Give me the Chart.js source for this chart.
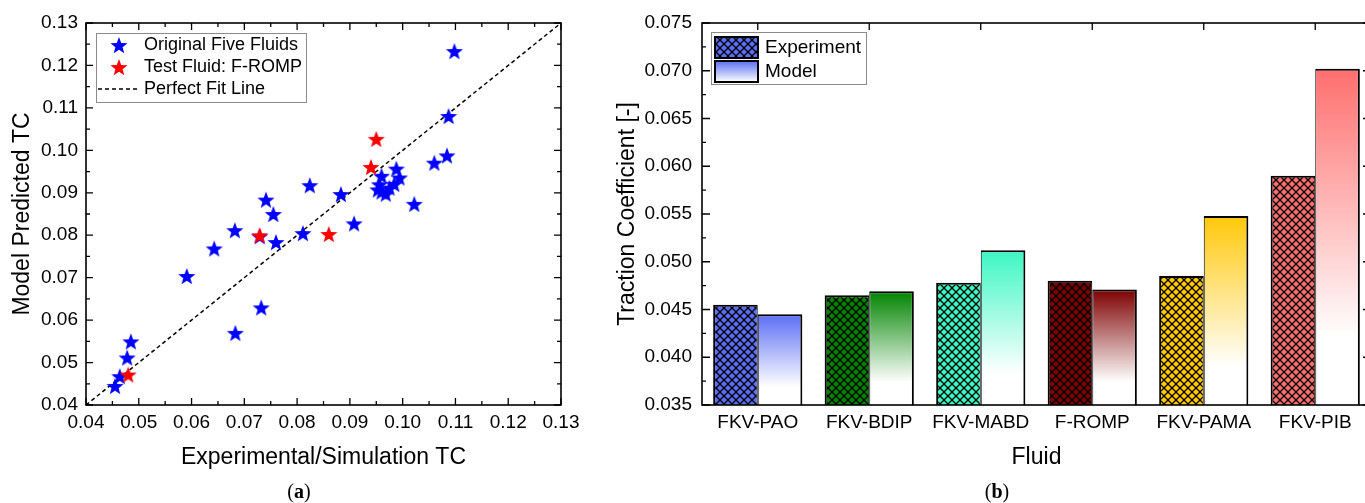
<!DOCTYPE html>
<html>
<head>
<meta charset="utf-8">
<script src="https://cdn.jsdelivr.net/npm/chart.js@4.4.1/dist/chart.umd.min.js"></script>
<style>
  html, body { margin: 0; padding: 0; background: #fff; }
  body { width: 1365px; height: 503px; overflow: hidden; position: relative; }
  .panel { position: absolute; top: 0; height: 503px; }
  .tag { position: absolute; top: 491px; transform: translate(-50%, -50%);
         font: 20px "Liberation Serif", "Times New Roman", serif; color: #000; }
</style>
</head>
<body>
<div class="panel" style="left:0;width:600px"><canvas id="scatter"></canvas></div>
<div class="panel" style="left:600px;width:780px"><canvas id="bars"></canvas></div>
<div class="tag" style="left:299px">(<b>a</b>)</div>
<div class="tag" style="left:997px">(<b>b</b>)</div>
<script>
Chart.defaults.font.family = '"Liberation Sans", Arial, sans-serif';
Chart.defaults.color = '#000';
Chart.defaults.animation = false;

// ── Data: (a) parity plot ──────────────────────────────────────────────────────
const tcTicks = [0.04, 0.05, 0.06, 0.07, 0.08, 0.09, 0.10, 0.11, 0.12, 0.13];

const origExp   = [0.1098, 0.1087, 0.1084, 0.1060, 0.1022, 0.0988, 0.0994, 0.0960, 0.0956, 0.0960,
                   0.0968, 0.0975, 0.0984, 0.0953, 0.0883, 0.0824, 0.0908, 0.0811, 0.0741, 0.0755,
                   0.0760, 0.0729, 0.0682, 0.0643, 0.0591, 0.0732, 0.0683, 0.0485, 0.0478, 0.0464, 0.0455];
const origModel = [0.1234, 0.1081, 0.0988, 0.0971, 0.0874, 0.0957, 0.0936, 0.0940, 0.0920, 0.0903,
                   0.0898, 0.0912, 0.0921, 0.0908, 0.0897, 0.0918, 0.0828, 0.0805, 0.0884, 0.0850,
                   0.0784, 0.0798, 0.0812, 0.0769, 0.0704, 0.0630, 0.0570, 0.0550, 0.0512, 0.0468, 0.0445];
const testExp   = [0.0950, 0.0940, 0.0860, 0.0729, 0.0480];
const testModel = [0.1027, 0.0961, 0.0803, 0.0800, 0.0472];
const fitLine   = [0.04, 0.13];

// ── Data: (b) traction coefficient per fluid ───────────────────────────────────
const fluids        = ['FKV-PAO', 'FKV-BDIP', 'FKV-MABD', 'F-ROMP', 'FKV-PAMA', 'FKV-PIB'];
const tcExperiment  = [0.0455, 0.0465, 0.0478, 0.0480, 0.0485, 0.0590];
const tcModel       = [0.0445, 0.0469, 0.0512, 0.0471, 0.0548, 0.0702];
const fluidColors   = ['#5a6ef4', '#008400', '#3cf7c3', '#7d0000', '#ffc809', '#ff6e6e'];
const tractionTicks = [0.035, 0.040, 0.045, 0.050, 0.055, 0.060, 0.065, 0.070, 0.075];

// ── Helpers ────────────────────────────────────────────────────────────────────
function starImage(color) {
  const r = 9, c = document.createElement('canvas');
  c.width = c.height = 2 * r + 2;
  const g = c.getContext('2d');
  g.fillStyle = color;
  g.beginPath();
  for (let i = 0; i < 10; i++) {
    const ang = -Math.PI / 2 + i * Math.PI / 5;
    const rr = i % 2 ? r * 0.42 : r;
    g.lineTo(c.width / 2 + rr * Math.cos(ang), c.height / 2 + 1 + rr * Math.sin(ang));
  }
  g.closePath();
  g.fill();
  return c;
}
const blueStar = starImage('#0000ff');
const redStar  = starImage('#ff0000');

function hatch(ctx, color) {
  const c = document.createElement('canvas');
  c.width = c.height = 8;
  const g = c.getContext('2d');
  g.fillStyle = color;
  g.fillRect(0, 0, 8, 8);
  g.strokeStyle = '#000';
  g.lineWidth = 1.3;
  g.beginPath();
  g.moveTo(-1, -1); g.lineTo(9, 9);
  g.moveTo(9, -1);  g.lineTo(-1, 9);
  g.stroke();
  return ctx.createPattern(c, 'repeat');
}

function midpoints(v) { return v.slice(1).map((t, i) => (t + v[i]) / 2); }

function tickMarks(ctx, a, side, pixels, len) {
  pixels.forEach(p => {
    if (side === 'bottom') { ctx.moveTo(p, a.bottom); ctx.lineTo(p, a.bottom - len); }
    if (side === 'top')    { ctx.moveTo(p, a.top);    ctx.lineTo(p, a.top + len); }
    if (side === 'left')   { ctx.moveTo(a.left, p);   ctx.lineTo(a.left + len, p); }
    if (side === 'right')  { ctx.moveTo(a.right, p);  ctx.lineTo(a.right - len, p); }
  });
}

function fixedTicks(values) {
  return scale => { scale.ticks = values.map(v => ({ value: v })); };
}

const tickFont  = { size: 19 };
const titleFont = { size: 23 };

// ── (a) scatter ────────────────────────────────────────────────────────────────
const scatterFrame = {
  id: 'scatterFrame',
  afterDatasetsDraw(chart) {
    const { ctx, chartArea: a, scales: { x, y } } = chart;
    const xMaj = tcTicks.map(v => x.getPixelForValue(v));
    const xMin = midpoints(tcTicks).map(v => x.getPixelForValue(v));
    const yMaj = tcTicks.map(v => y.getPixelForValue(v));
    const yMin = midpoints(tcTicks).map(v => y.getPixelForValue(v));
    ctx.save();
    ctx.strokeStyle = '#000';
    ctx.lineWidth = 1.3;
    ctx.beginPath();
    ['top', 'bottom'].forEach(s => { tickMarks(ctx, a, s, xMaj, 7); tickMarks(ctx, a, s, xMin, 4); });
    ['left', 'right'].forEach(s => { tickMarks(ctx, a, s, yMaj, 7); tickMarks(ctx, a, s, yMin, 4); });
    ctx.stroke();
    ctx.lineWidth = 1.6;
    ctx.strokeRect(a.left, a.top, a.right - a.left, a.bottom - a.top);
    ctx.restore();
  },
  afterDraw(chart) {
    const ctx = chart.ctx;
    ctx.save();
    ctx.fillStyle = '#fff';
    ctx.fillRect(96.5, 33.5, 210, 69);
    ctx.strokeStyle = '#8a8a8a';
    ctx.lineWidth = 1;
    ctx.strokeRect(96.5, 33.5, 210, 69);
    ctx.drawImage(blueStar, 119 - blueStar.width / 2, 45 - blueStar.height / 2);
    ctx.drawImage(redStar, 119 - redStar.width / 2, 67 - redStar.height / 2);
    ctx.strokeStyle = '#000';
    ctx.lineWidth = 1.5;
    ctx.setLineDash([4, 3]);
    ctx.beginPath();
    ctx.moveTo(98, 89); ctx.lineTo(138, 89);
    ctx.stroke();
    ctx.fillStyle = '#000';
    ctx.font = '18px "Liberation Sans", Arial, sans-serif';
    ctx.textBaseline = 'middle';
    ctx.fillText('Original Five Fluids', 144, 45);
    ctx.fillText('Test Fluid: F-ROMP', 144, 67);
    ctx.fillText('Perfect Fit Line', 144, 89);
    ctx.restore();
  }
};

new Chart(document.getElementById('scatter'), {
  type: 'scatter',
  data: {
    datasets: [
      { label: 'Original Five Fluids', order: 1,
        data: origExp.map((v, i) => ({ x: v, y: origModel[i] })),
        pointStyle: blueStar, pointRadius: 9 },
      { label: 'Test Fluid: F-ROMP', order: 0,
        data: testExp.map((v, i) => ({ x: v, y: testModel[i] })),
        pointStyle: redStar, pointRadius: 9 },
      { label: 'Perfect Fit Line', type: 'line', order: 2,
        data: fitLine.map(v => ({ x: v, y: v })),
        borderColor: '#000', borderWidth: 1.5, borderDash: [4, 3], pointRadius: 0, fill: false }
    ]
  },
  options: {
    responsive: true, maintainAspectRatio: false,
    layout: { padding: { top: 23, right: 39, left: 0, bottom: 0 } },
    plugins: { legend: { display: false }, tooltip: { enabled: false } },
    scales: {
      x: {
        type: 'linear', min: 0.04, max: 0.13,
        afterBuildTicks: fixedTicks(tcTicks),
        afterFit: s => { s.height = 98; },
        grid: { display: false, drawTicks: false }, border: { display: false },
        ticks: { font: tickFont, padding: 6, maxRotation: 0, callback: v => v.toFixed(2) },
        title: { display: true, text: 'Experimental/Simulation TC', font: titleFont, padding: { top: 0, bottom: 32 } }
      },
      y: {
        type: 'linear', min: 0.04, max: 0.13,
        afterBuildTicks: fixedTicks(tcTicks),
        afterFit: s => { s.width = 86; },
        grid: { display: false, drawTicks: false }, border: { display: false },
        ticks: { font: tickFont, padding: 8, callback: v => v.toFixed(2) },
        title: { display: true, text: 'Model Predicted TC', font: titleFont, padding: { top: 9, bottom: 0 } }
      }
    }
  },
  plugins: [scatterFrame]
});

// ── (b) bars ───────────────────────────────────────────────────────────────────
const barCanvas = document.getElementById('bars');
const barCtx = barCanvas.getContext('2d');
const hatches = fluidColors.map(c => hatch(barCtx, c));

function modelFill(context) {
  const chart = context.chart, area = chart.chartArea;
  const color = fluidColors[context.dataIndex];
  if (!area || !chart.scales.y) return color;
  const top = chart.scales.y.getPixelForValue(tcModel[context.dataIndex]);
  const g = chart.ctx.createLinearGradient(0, top, 0, area.bottom);
  g.addColorStop(0, color);
  g.addColorStop(0.8, '#ffffff');
  g.addColorStop(1, '#ffffff');
  return g;
}

const barFrame = {
  id: 'barFrame',
  afterDatasetsDraw(chart) {
    const { ctx, chartArea: a, scales: { x, y } } = chart;
    const yMaj = tractionTicks.map(v => y.getPixelForValue(v));
    const yMin = midpoints(tractionTicks).map(v => y.getPixelForValue(v));
    const xMaj = fluids.map((f, i) => x.getPixelForValue(i));
    ctx.save();
    ctx.strokeStyle = '#000';
    ctx.lineWidth = 1.3;
    ctx.beginPath();
    ['left', 'right'].forEach(s => { tickMarks(ctx, a, s, yMaj, 8); tickMarks(ctx, a, s, yMin, 4); });
    tickMarks(ctx, a, 'top', xMaj, 7);
    ctx.stroke();
    ctx.lineWidth = 1.6;
    ctx.strokeRect(a.left, a.top, a.right - a.left, a.bottom - a.top);
    ctx.restore();
  },
  afterDraw(chart) {
    const ctx = chart.ctx;
    ctx.save();
    ctx.fillStyle = '#fff';
    ctx.fillRect(111.5, 32.5, 155, 52);
    ctx.strokeStyle = '#8a8a8a';
    ctx.lineWidth = 1;
    ctx.strokeRect(111.5, 32.5, 155, 52);
    ctx.fillStyle = hatches[0];
    ctx.fillRect(115, 37, 43, 21);
    const g = ctx.createLinearGradient(0, 61, 0, 82);
    g.addColorStop(0, fluidColors[0]);
    g.addColorStop(1, '#ffffff');
    ctx.fillStyle = g;
    ctx.fillRect(115, 61, 43, 21);
    ctx.strokeStyle = '#000';
    ctx.lineWidth = 2;
    ctx.strokeRect(115, 37, 43, 21);
    ctx.strokeRect(115, 61, 43, 21);
    ctx.fillStyle = '#000';
    ctx.font = '19px "Liberation Sans", Arial, sans-serif';
    ctx.textBaseline = 'middle';
    ctx.fillText('Experiment', 165, 48);
    ctx.fillText('Model', 165, 72);
    ctx.restore();
  }
};

new Chart(barCanvas, {
  type: 'bar',
  data: {
    labels: fluids,
    datasets: [
      { label: 'Experiment', data: tcExperiment, backgroundColor: hatches, borderColor: '#000',
        borderWidth: { top: 2, left: 2, right: 1, bottom: 0 }, borderSkipped: false, base: 0.035 },
      { label: 'Model', data: tcModel, backgroundColor: modelFill, borderColor: '#000',
        borderWidth: { top: 2, left: 1, right: 2, bottom: 0 }, borderSkipped: false, base: 0.035 }
    ]
  },
  options: {
    responsive: true, maintainAspectRatio: false,
    layout: { padding: { top: 23, right: 9, left: 0, bottom: 0 } },
    plugins: { legend: { display: false }, tooltip: { enabled: false } },
    datasets: { bar: { categoryPercentage: 0.8, barPercentage: 1.0, inflateAmount: 0 } },
    scales: {
      x: {
        afterFit: s => { s.height = 98; },
        grid: { display: false, drawTicks: false }, border: { display: false },
        ticks: { font: tickFont, padding: 6, maxRotation: 0 },
        title: { display: true, text: 'Fluid', font: titleFont, padding: { top: 0, bottom: 32 } }
      },
      y: {
        min: 0.035, max: 0.075,
        afterBuildTicks: fixedTicks(tractionTicks),
        afterFit: s => { s.width = 102; },
        grid: { display: false, drawTicks: false }, border: { display: false },
        ticks: { font: tickFont, padding: 10, callback: v => v.toFixed(3) },
        title: { display: true, text: 'Traction Coefficient [-]', font: titleFont, padding: { top: 14, bottom: 0 } }
      }
    }
  },
  plugins: [barFrame]
});
</script>
</body>
</html>
